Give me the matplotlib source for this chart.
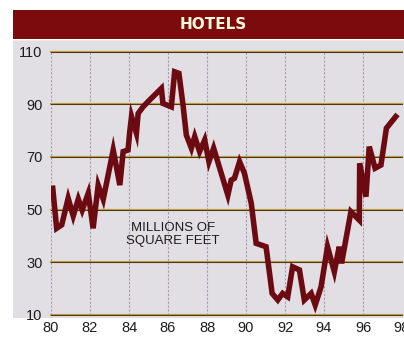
import matplotlib
matplotlib.use("Agg")
import matplotlib.pyplot as plt
from matplotlib.patches import Rectangle
import numpy as np

# hotel construction, millions of square feet
years = [80.09, 80.29, 80.55, 80.88, 81.14, 81.40, 81.60, 81.91, 82.16, 82.42,
         82.68, 83.19, 83.53, 83.70, 83.95, 84.04, 84.13, 84.38, 84.47, 84.72,
         85.06, 85.66, 85.74, 86.17, 86.34, 86.56, 86.77, 86.94, 87.20, 87.37,
         87.62, 87.88, 88.10, 88.34, 89.07, 89.24, 89.41, 89.67, 89.92, 90.27,
         90.52, 91.03, 91.34, 91.63, 91.88, 92.14, 92.39, 92.74, 92.99, 93.34,
         93.55, 93.85, 94.18, 94.53, 94.78, 94.90, 95.38, 95.81, 95.83, 96.15,
         96.32, 96.62, 96.92, 97.20, 97.68]
values = [58.1, 42.9, 44.2, 54.3, 47.6, 54.0, 49.8, 56.2, 42.9, 59.3,
          53.9, 72.6, 59.3, 72.0, 72.6, 79.6, 85.3, 79.0, 86.5, 89.0,
          91.6, 96.0, 90.3, 89.0, 102.3, 101.7, 89.7, 78.3, 73.3, 77.7,
          72.0, 76.4, 68.2, 73.3, 55.5, 61.2, 61.9, 68.2, 63.8, 52.4,
          37.2, 35.9, 18.2, 15.7, 18.2, 16.9, 28.3, 27.1, 15.7, 18.2,
          13.8, 20.7, 35.9, 26.4, 35.9, 29.6, 49.2, 46.0, 67.6, 54.9,
          73.9, 65.7, 66.9, 80.9, 85.3]

xticks = [80, 82, 84, 86, 88, 90, 92, 94, 96, 98]
yticks = [10, 30, 50, 70, 90, 110]

W, H = 404, 338
fig = plt.figure(figsize=(W / 100, H / 100), dpi=100)
fig.patch.set_facecolor("white")

# grey panel and title bar behind the axes
fig.patches.append(Rectangle((13 / W, (H - 318) / H), (W - 13) / W, 278 / H,
                             transform=fig.transFigure, facecolor="#e2dfe4",
                             edgecolor="none", zorder=-3))
fig.patches.append(Rectangle((13 / W, (H - 39) / H), (W - 13) / W, 29 / H,
                             transform=fig.transFigure, facecolor="#7c0b0d",
                             edgecolor="none", zorder=-2))
fig.patches.append(Rectangle((13 / W, (H - 41) / H), (W - 13) / W, 1.5 / H,
                             transform=fig.transFigure, facecolor="#f3ead0",
                             edgecolor="none", zorder=-2))
fig.text(213.5 / W, (H - 24.5) / H, "HOTELS", ha="center", va="center",
         fontsize=11, fontweight="bold", color="#fff6dc",
         family="DejaVu Sans")

ax = fig.add_axes([51 / W, (H - 315) / H, 351 / W, 263.5 / H])
ax.set_zorder(2)
ax.set_facecolor("none")
ax.set_xlim(80, 97.95)
ax.set_ylim(10, 110)

for x in xticks[:-1]:
    ax.axvline(x, color="#a898b0", lw=0.8, ls=(0, (2, 1.5)), zorder=1)
for y in yticks:
    ax.axhline(y, color="#bf9c44", lw=1.6, zorder=1, clip_on=False)
    ax.axhline(y, color="#4a3418", lw=0.7, zorder=1.1, clip_on=False)

ax.plot(years, values, color="#6c0a12", lw=4.0, solid_joinstyle="miter",
        zorder=3)

ax.text(86.24, 40.6, "MILLIONS OF\nSQUARE FEET", ha="center", va="center",
        fontsize=9.5, color="#1c1c1c", linespacing=1.05,
        family="Liberation Sans")

ax.set_xticks(xticks)
ax.set_yticks(yticks)
ax.set_xticklabels([str(x) for x in xticks], fontsize=10.5, color="#1c1c1c",
                   family="Liberation Sans")
ax.set_yticklabels([str(y) for y in yticks], fontsize=10.5, color="#1c1c1c",
                   family="Liberation Sans")
ax.tick_params(length=0, pad=6)
ax.tick_params(axis="x", pad=4)
for s in ax.spines.values():
    s.set_visible(False)

fig.savefig("out.png", dpi=100)
